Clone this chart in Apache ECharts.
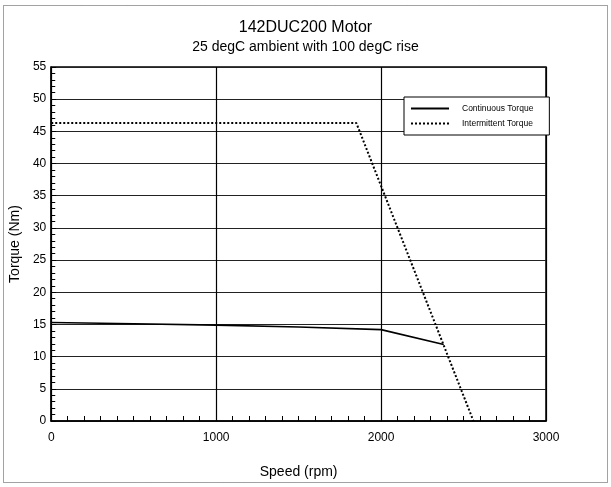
<!DOCTYPE html>
<html>
<head>
<meta charset="utf-8">
<script src="https://cdn.jsdelivr.net/npm/echarts@6/dist/echarts.min.js"></script>
<style>
  html, body { margin: 0; padding: 0; background: #fff; }
  #main { width: 611px; height: 487px; }
</style>
</head>
<body>
<div id="main"></div>
<script>
// speed (rpm) / torque (Nm) points
var contSpeed = [0, 500, 1000, 1500, 2000, 2380];
var contTorque = [15.3, 15.1, 14.9, 14.6, 14.2, 11.9];
var intSpeed = [0, 1850, 2560];
var intTorque = [46.3, 46.3, 0];
var seriesNames = ['Continuous Torque', 'Intermittent Torque'];

function pairs(xs, ys) {
    var out = [];
    for (var i = 0; i < xs.length; i++) {
        out.push([xs[i], ys[i]]);
    }
    return out;
}

var font = 'Liberation Sans, Arial, Helvetica, sans-serif';
var chart = echarts.init(document.getElementById('main'));
var option = {
    backgroundColor: '#fff',
    animation: false,
    textStyle: { fontFamily: font, color: '#000' },
    title: {
        text: '142DUC200 Motor',
        subtext: '25 degC ambient with 100 degC rise',
        left: 'center',
        top: 15,
        itemGap: 4,
        textStyle: { fontFamily: font, fontSize: 16, fontWeight: 'normal', color: '#000' },
        subtextStyle: { fontFamily: font, fontSize: 14, color: '#000' }
    },
    legend: {
        orient: 'vertical',
        left: 404,
        top: 97,
        padding: [7, 16, 7, 6],
        itemGap: 6,
        itemWidth: 38,
        itemHeight: 8,
        backgroundColor: '#fff',
        borderColor: '#000',
        borderWidth: 1,
        borderRadius: 0,
        itemStyle: { opacity: 0 },
        textStyle: { fontFamily: font, fontSize: 8.5, color: '#000', padding: [0, 0, 0, 8] },
        data: seriesNames
    },
    grid: {
        left: 51, right: 65, top: 67, bottom: 66,
        show: true, borderColor: '#000', borderWidth: 1.5
    },
    xAxis: {
        type: 'value',
        min: 0, max: 3000, interval: 1000,
        name: 'Speed (rpm)',
        nameLocation: 'middle',
        nameGap: 44,
        nameTextStyle: { fontFamily: font, fontSize: 14, color: '#000' },
        axisLine: { lineStyle: { color: '#000', width: 1.5 } },
        axisTick: { inside: true, length: 5, lineStyle: { color: '#000' } },
        minorTick: { show: true, splitNumber: 10, length: 5, lineStyle: { color: '#000' } },
        axisLabel: { fontFamily: font, fontSize: 12, color: '#000', margin: 11,
            formatter: function (v) { return String(v); } },
        splitLine: { show: true, lineStyle: { color: '#000', width: 1.2 } }
    },
    yAxis: {
        type: 'value',
        min: 0, max: 55, interval: 5,
        name: 'Torque (Nm)',
        nameLocation: 'middle',
        nameGap: 28,
        nameTextStyle: { fontFamily: font, fontSize: 14, color: '#000' },
        axisLine: { lineStyle: { color: '#000', width: 1.5 } },
        axisTick: { inside: true, length: 5, lineStyle: { color: '#000' } },
        minorTick: { show: true, splitNumber: 5, length: 4, lineStyle: { color: '#000' } },
        axisLabel: { fontFamily: font, fontSize: 12, color: '#000', margin: 5 },
        splitLine: { show: true, lineStyle: { color: '#222', width: 1.2 } }
    },
    graphic: [{
        type: 'rect',
        shape: { x: 3.5, y: 5.5, width: 604, height: 477 },
        style: { fill: 'none', stroke: '#444', lineWidth: 1, lineDash: [1, 1] },
        silent: true
    }],
    series: [
        {
            name: seriesNames[0],
            type: 'line',
            symbol: 'none',
            data: pairs(contSpeed, contTorque),
            lineStyle: { color: '#000', width: 1.6, type: 'solid' },
            itemStyle: { color: '#000' }
        },
        {
            name: seriesNames[1],
            type: 'line',
            symbol: 'none',
            data: pairs(intSpeed, intTorque),
            lineStyle: { color: '#000', width: 2, type: [2, 2] },
            itemStyle: { color: '#000' }
        }
    ]
};
chart.setOption(option);
</script>
</body>
</html>
